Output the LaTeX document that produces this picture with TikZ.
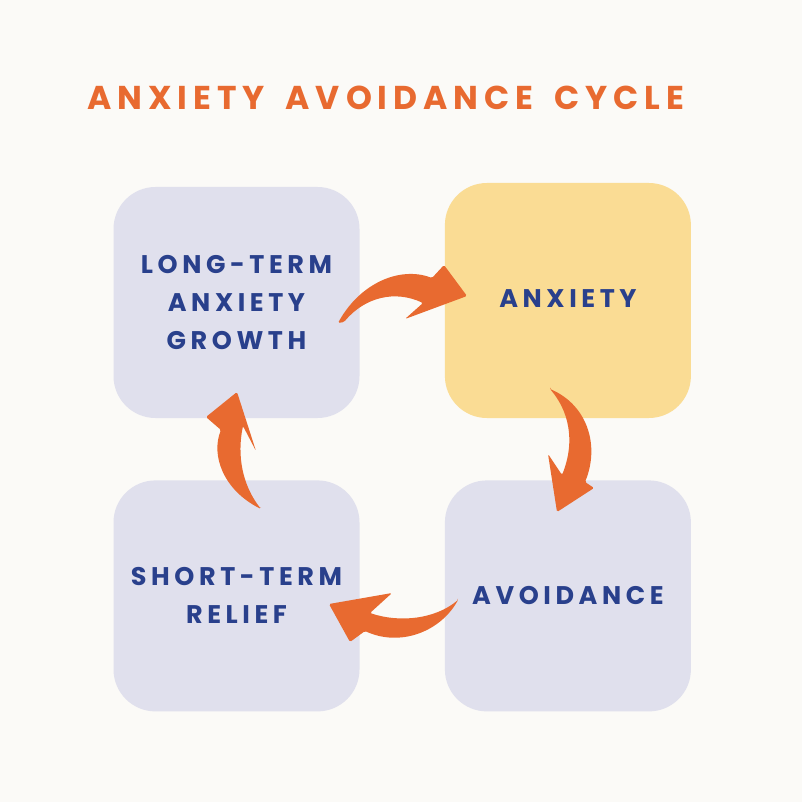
\documentclass[tikz,border=0pt]{standalone}
\usepackage{fontspec}
\newfontfamily\boxfont[LetterSpace=18]{Poppins}
\newfontfamily\titlefont[LetterSpace=18]{Poppins}
\usetikzlibrary{positioning}

\definecolor{bgcolor}{RGB}{251,250,247}
\definecolor{boxcolor}{RGB}{224,224,237}
\definecolor{hotcolor}{RGB}{250,220,148}
\definecolor{arrowcolor}{RGB}{232,106,48}
\definecolor{textblue}{RGB}{41,64,140}

\begin{document}
\begin{tikzpicture}[x=1pt, y=-1pt,
    box/.style={rectangle, rounded corners=42pt, fill=boxcolor, minimum width=246pt, minimum height=231pt, inner sep=0pt, align=center, text=textblue, font=\boxfont\bfseries\fontsize{25.5}{38}\selectfont},
    brush/.style={fill=arrowcolor, rounded corners=1.5pt}]

    % --- Background ---
    \fill[bgcolor] (0,0) rectangle (802,802);

    % --- Title ---
    \node[anchor=west, inner sep=0pt, text=arrowcolor, font=\titlefont\bfseries\fontsize{33}{40}\selectfont] (title) at (87,98) {ANXIETY\hspace{8pt} AVOIDANCE\hspace{8pt} CYCLE};

    % --- Boxes ---
    \node[box] (growth) at (236.5,302.5) {LONG-TERM\\ANXIETY\\GROWTH};
    \node[box, fill=hotcolor, minimum height=235pt, right=85pt of growth, yshift=2pt] (anxiety) {\raisebox{4pt}{ANXIETY}};
    \node[box, below=62pt of growth] (relief) {SHORT-TERM\\RELIEF};
    \node[box, below=62pt of anxiety] (avoid) {AVOIDANCE};

    % --- Brush arrows ---
    % growth -> anxiety
    \fill[brush] (338,323) .. controls (360,283) and (400,266) .. (432,278) -- (444,265) -- (467,296) -- (405,319) -- (423,303) .. controls (395,290) and (365,297) .. (344,322) -- cycle;
    % anxiety -> avoidance
    \fill[brush] (550,389) .. controls (587,405) and (600,445) .. (585,482) -- (594,488) -- (557,512) -- (548,454) -- (562,475) .. controls (576,440) and (568,410) .. (550,389) -- cycle;
    % avoidance -> relief
    \fill[brush] (458,600) .. controls (440,632) and (400,647) .. (365,631) -- (350,642) -- (329,604) -- (392,593) -- (370,613) .. controls (400,623) and (435,619) .. (458,600) -- cycle;
    % relief -> growth
    \fill[brush] (261,509) .. controls (223,490) and (211,455) .. (221,430) -- (206,417) -- (237,392) -- (256,451) -- (243,426) .. controls (237,455) and (242,485) .. (261,509) -- cycle;
\end{tikzpicture}
\end{document}
